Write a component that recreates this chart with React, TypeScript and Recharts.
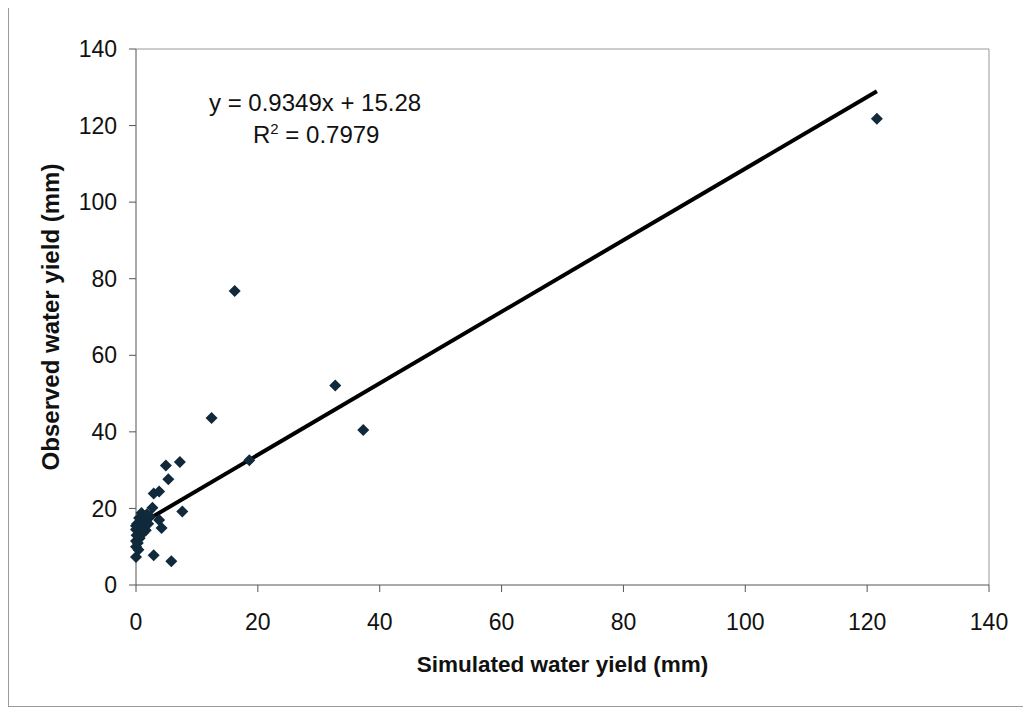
import React from "react";
import {
  ScatterChart,
  Scatter,
  XAxis,
  YAxis,
  ReferenceLine,
} from "recharts";

// simulated (x) vs observed (y) water yield, mm
const simulated = [
  121.6, 16.2, 32.7, 37.3, 12.4, 18.6, 7.2, 4.9, 5.3, 2.9, 3.8, 7.6, 2.7, 3.8,
  4.2, 2.9, 5.8, 0.0, 0.0, 0.0, 0.1, 0.0, 0.2, 0.0, 0.5, 0.9, 0.6, 1.0, 1.3,
  1.6, 2.0, 2.3, 1.1, 0.4, 1.8, 0.3,
];
const observed = [
  121.8, 76.8, 52.1, 40.5, 43.6, 32.6, 32.1, 31.2, 27.6, 23.9, 24.4, 19.2,
  20.2, 17.0, 14.9, 7.8, 6.2, 7.3, 10.0, 11.5, 13.0, 14.5, 16.0, 15.5, 17.5,
  18.8, 12.2, 15.0, 16.5, 14.3, 16.0, 17.8, 13.5, 9.2, 18.5, 11.0,
];

const ticks = [0, 20, 40, 60, 80, 100, 120, 140];

// linear trendline from the chart's equation, drawn over the range of x
const slope = 0.9349;
const intercept = 15.28;
const trendX = [0, 121.6];

const points = simulated.map((x, i) => ({ x, y: observed[i] }));
const trend = trendX.map((x) => ({ x, y: slope * x + intercept }));

const font = "'Liberation Sans', Arial, sans-serif";

const Diamond = (props: any) => {
  const { cx, cy } = props;
  const r = 6;
  return (
    <path
      d={`M${cx},${cy - r}L${cx + r},${cy}L${cx},${cy + r}L${cx - r},${cy}Z`}
      fill="#10293b"
    />
  );
};

export default function App() {
  return (
    <div style={{ position: "relative", width: 1022, height: 700, fontFamily: font }}>
      <div
        style={{
          position: "absolute",
          left: 0,
          top: -1,
          width: 1022,
          height: 700,
          border: "1px solid #9a9a9a",
          boxSizing: "border-box",
        }}
      />
      <ScatterChart
        width={1022}
        height={700}
        margin={{ top: 41, right: 41, left: 0, bottom: 0 }}
      >
        <XAxis
          type="number"
          dataKey="x"
          domain={[0, 140]}
          ticks={ticks}
          height={123}
          tickSize={7}
          tickMargin={22}
          stroke="#555"
          tick={{ fill: "#111", fontSize: 23, fontFamily: font }}
          label={{
            value: "Simulated water yield (mm)",
            position: "insideBottom",
            offset: 36,
            style: { fontSize: 22.5, fontWeight: 700, fill: "#111", fontFamily: font },
          }}
        />
        <YAxis
          type="number"
          dataKey="y"
          domain={[0, 140]}
          ticks={ticks}
          width={128}
          tickSize={7}
          tickMargin={12}
          stroke="#555"
          tick={{ fill: "#111", fontSize: 23, fontFamily: font }}
          label={{
            value: "Observed water yield (mm)",
            angle: -90,
            position: "insideLeft",
            offset: 42,
            style: {
              fontSize: 24,
              fontWeight: 700,
              fill: "#111",
              fontFamily: font,
              textAnchor: "middle",
            },
          }}
        />
        <ReferenceLine y={140} stroke="#999" strokeWidth={1} />
        <ReferenceLine x={140} stroke="#999" strokeWidth={1} />
        <Scatter
          data={trend}
          line={{ stroke: "#000", strokeWidth: 4 }}
          shape={() => <g />}
          isAnimationActive={false}
        />
        <Scatter data={points} shape={Diamond} isAnimationActive={false} />
      </ScatterChart>
      <div
        style={{
          position: "absolute",
          left: 201,
          top: 81,
          fontSize: 24,
          lineHeight: "28px",
          color: "#111",
          whiteSpace: "nowrap",
        }}
      >
        y = 0.9349x + 15.28
      </div>
      <div
        style={{
          position: "absolute",
          left: 245,
          top: 113,
          fontSize: 24,
          lineHeight: "28px",
          color: "#111",
          whiteSpace: "nowrap",
        }}
      >
        R<sup style={{ fontSize: 15, lineHeight: 0 }}>2</sup> = 0.7979
      </div>
    </div>
  );
}
